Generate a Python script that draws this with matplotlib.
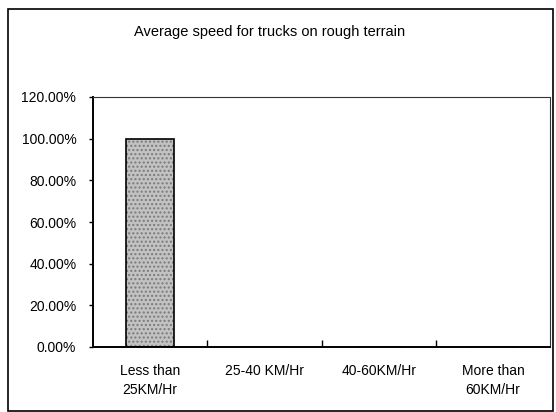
import matplotlib
matplotlib.use("Agg")
import matplotlib.pyplot as plt
from matplotlib.patches import Rectangle
from matplotlib.ticker import FuncFormatter, FixedLocator

# ── Data ───────────────────────────────────────────────────────────────────────
categories = ["Less than\n25KM/Hr", "25-40 KM/Hr", "40-60KM/Hr", "More than\n60KM/Hr"]
shares     = [1.00, 0.0, 0.0, 0.0]
y_ticks    = [0.0, 0.2, 0.4, 0.6, 0.8, 1.0, 1.2]
title      = "Average speed for trucks on rough terrain"

plt.rcParams["font.family"] = ["Liberation Sans", "DejaVu Sans"]

fig = plt.figure(figsize=(5.56, 4.12), dpi=100)
ax = fig.add_axes([93 / 556, 1 - 347 / 412, (550 - 93) / 556, (347 - 97) / 412])

x = list(range(len(categories)))
ax.bar(x, shares, width=0.42, color="#c2c2c2", hatch="....", edgecolor="#7a7a7a", linewidth=0)
ax.bar(x, shares, width=0.42, color="none", edgecolor="black", linewidth=1.2)

ax.set_xlim(-0.5, len(categories) - 0.5)
ax.set_ylim(0, 1.2)
ax.set_yticks(y_ticks)
ax.yaxis.set_major_formatter(FuncFormatter(lambda v, _: f"{v * 100:.2f}%"))
ax.tick_params(axis="y", direction="out", length=3, width=1, pad=9, labelsize=10)

# category labels centred, tick marks at the boundaries
ax.set_xticks(x)
ax.set_xticklabels(categories, linespacing=1.45)
ax.tick_params(axis="x", which="major", length=0, pad=12, labelsize=10)
ax.xaxis.set_minor_locator(FixedLocator([i + 0.5 for i in x[:-1]]))
ax.tick_params(axis="x", which="minor", direction="in", length=5, width=1)

for side in ["left", "bottom"]:
    ax.spines[side].set_linewidth(1.4)
for side in ["top", "right"]:
    ax.spines[side].set_linewidth(0.8)
    ax.spines[side].set_linestyle((0, (2, 1)))
    ax.spines[side].set_color("#333333")

fig.text(270 / 556, 1 - 32 / 412, title, ha="center", va="center", fontsize=10.5)

# outer chart frame
fig.patches.append(Rectangle((8 / 556, 1 - 411 / 412), (553 - 8) / 556, (411 - 9) / 412,
                             transform=fig.transFigure, fill=False,
                             edgecolor="black", linewidth=1.2))

plt.savefig("out.png", dpi=100)
plt.close()
